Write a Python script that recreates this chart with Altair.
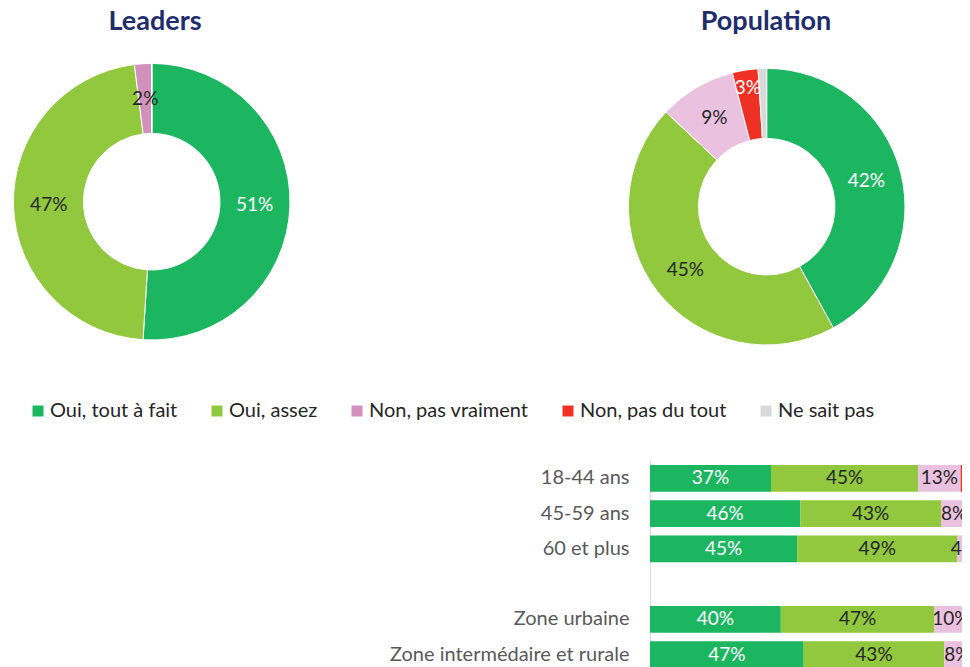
import altair as alt
import pandas as pd

# ---------------- data ----------------
categories = ["Oui, tout à fait", "Oui, assez", "Non, pas vraiment", "Non, pas du tout", "Ne sait pas"]
legend_colors = ["#1bb65f", "#92c83e", "#d291bc", "#ee3124", "#d9d9d9"]
light_colors = ["#1bb65f", "#92c83e", "#eac1de", "#ee3124", "#d9d9d9"]
text_colors = ["white", "#262626", "#262626", "white", "#262626"]

leaders_values = [51, 47, 2, 0, 0]
population_values = [42, 45, 9, 3, 1]

groups = ["18-44 ans", "45-59 ans", "60 et plus", " ", "Zone urbaine", "Zone intermédaire et rurale"]
bar_groups = ["18-44 ans", "45-59 ans", "60 et plus", "Zone urbaine", "Zone intermédaire et rurale"]
oui_tout = [37, 46, 45, 40, 47]
oui_assez = [45, 43, 49, 47, 43]
non_vraiment = [13, 8, 4, 10, 8]
non_du_tout = [3, 2, 1, 2, 1]
ne_sait_pas = [2, 1, 1, 1, 1]

FONT = "Lato"
DARK = "#262626"


def donut_df(values, colors):
    return pd.DataFrame({
        "cat": categories,
        "idx": list(range(len(categories))),
        "value": values,
        "hex": colors,
        "tc": text_colors,
    })


leaders_df = donut_df(leaders_values, legend_colors)
population_df = donut_df(population_values, light_colors)

rows = []
series = [oui_tout, oui_assez, non_vraiment, non_du_tout, ne_sait_pas]
for gi, g in enumerate(bar_groups):
    for ci, cat in enumerate(categories):
        rows.append({"group": g, "cat": cat, "idx": ci, "value": series[ci][gi],
                     "hex": light_colors[ci], "tc": text_colors[ci]})
bar_df = pd.DataFrame(rows)

theta_scale = alt.Scale(domain=[0, 100])
INNER, OUTER, LABEL_R = 68.3, 138.3, 103


def donut(df, cx, cy, title, tx, with_legend, small_r):
    if with_legend:
        col = alt.Color("cat:N", sort=categories,
                        scale=alt.Scale(domain=categories, range=legend_colors),
                        legend=alt.Legend(title=None, orient="none", legendX=20, legendY=393,
                                          direction="horizontal", symbolType="square",
                                          symbolSize=121, symbolStrokeWidth=0,
                                          labelFont=FONT, labelFontSize=20, labelColor=DARK,
                                          columnPadding=29, labelOffset=2, labelLimit=300))
        arc = alt.Chart(df).mark_arc(innerRadius=INNER, outerRadius=OUTER, stroke="white",
                                     strokeWidth=1).encode(
            theta=alt.Theta("value:Q", stack=True, scale=theta_scale),
            order=alt.Order("idx:Q"),
            color=col,
            x=alt.value(cx), y=alt.value(cy),
        )
    else:
        arc = alt.Chart(df).mark_arc(innerRadius=INNER, outerRadius=OUTER, stroke="white",
                                     strokeWidth=1).encode(
            theta=alt.Theta("value:Q", stack=True, scale=theta_scale),
            order=alt.Order("idx:Q"),
            fill=alt.Fill("hex:N", scale=None),
            x=alt.value(cx), y=alt.value(cy),
        )
    base = alt.Chart(df).transform_stack(
        stack="value", groupby=[], as_=["v0", "v1"], sort=[alt.SortField("idx", order="ascending")]
    ).transform_calculate(
        mid="(datum.v0 + datum.v1) / 2",
        label="datum.value >= 2 ? datum.value + '%' : ''",
    )
    enc = dict(
        theta=alt.Theta("mid:Q", scale=theta_scale),
        text="label:N",
        fill=alt.Fill("tc:N", scale=None),
        x=alt.value(cx), y=alt.value(cy),
    )
    labels_big = base.transform_filter("datum.value >= 5").mark_text(
        radius=LABEL_R, font=FONT, fontSize=19, align="center", baseline="middle").encode(**enc)
    labels_small = base.transform_filter("datum.value < 5").mark_text(
        radius=small_r, font=FONT, fontSize=19, align="center", baseline="middle").encode(**enc)
    ttl = alt.Chart(pd.DataFrame({"t": [title]})).mark_text(
        font=FONT, fontSize=27, fontWeight="bold", color="#1f2d6e",
        align="center", baseline="alphabetic").encode(
        text="t:N", x=alt.value(tx), y=alt.value(21.5))
    return [arc, labels_big, labels_small, ttl]


x_scale = alt.Scale(domain=[0, 100], range=[642, 969], nice=False)
y_scale = alt.Scale(domain=groups, range=[452.7, 664.2], paddingInner=0.24, paddingOuter=0.12)
y_axis = alt.Axis(title=None, offset=-642, ticks=False, tickSize=0, labelPadding=21,
                  labelFont=FONT, labelFontSize=20, labelColor="#595959",
                  domainColor="#d9d9d9", domainWidth=1, grid=False, labelLimit=400)

bars = alt.Chart(bar_df).mark_bar().encode(
    x=alt.X("value:Q", stack="zero", scale=x_scale, axis=None),
    y=alt.Y("group:N", scale=y_scale, axis=y_axis),
    fill=alt.Fill("hex:N", scale=None),
    order=alt.Order("idx:Q"),
)

bar_labels = alt.Chart(bar_df).transform_stack(
    stack="value", groupby=["group"], as_=["v0", "v1"], sort=[alt.SortField("idx", order="ascending")]
).transform_calculate(
    mid="(datum.v0 + datum.v1) / 2",
    label="datum.value >= 4 ? datum.value + '%' : ''",
).mark_text(font=FONT, fontSize=19, align="center", baseline="middle").encode(
    x=alt.X("mid:Q", scale=x_scale, axis=None),
    y=alt.Y("group:N", scale=y_scale, axis=y_axis),
    text="label:N",
    fill=alt.Fill("tc:N", scale=None),
)

layers = donut(leaders_df, 143.7, 193.7, "Leaders", 147, True, LABEL_R) + \
    donut(population_df, 758.7, 198.7, "Population", 758, False, 120) + [bars, bar_labels]

chart = alt.layer(*layers).properties(
    width=954, height=659, padding=0,
    autosize=alt.AutoSizeParams(type="none"),
).configure_view(strokeWidth=0)

chart.save("out.html", embed_options={"renderer": "svg", "actions": False})
